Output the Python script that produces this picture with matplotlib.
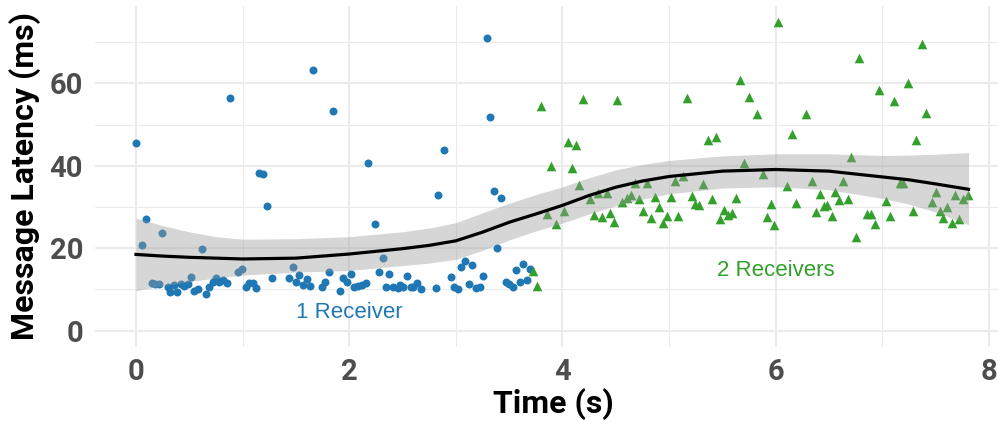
import matplotlib.pyplot as plt

# 1 Receiver (blue circles)
one_x = [0.0, 0.097, 0.056, 0.244, 0.147, 0.178, 0.219, 0.297, 0.319, 0.356, 0.388, 0.422, 0.453, 0.485,
         0.513, 0.547, 0.585, 0.616, 0.653, 0.685, 0.719, 0.750, 0.782, 0.819, 0.851, 0.882, 0.960, 0.991,
         1.029, 1.060, 1.094, 1.123, 1.154, 1.191, 1.226, 1.279, 1.435, 1.470, 1.501, 1.532, 1.563, 1.601,
         1.632, 1.663, 1.745, 1.776, 1.807, 1.845, 1.914, 1.945, 1.976, 2.014, 2.048, 2.080, 2.117, 2.155,
         2.180, 2.242, 2.283, 2.314, 2.345, 2.377, 2.414, 2.455, 2.477, 2.508, 2.545, 2.577, 2.602, 2.640,
         2.671, 2.811, 2.836, 2.892, 2.955, 2.983, 3.024, 3.052, 3.087, 3.121, 3.155, 3.189, 3.224, 3.258,
         3.290, 3.321, 3.356, 3.390, 3.421, 3.468, 3.502, 3.537, 3.568, 3.602, 3.633, 3.668, 3.699]
one_y = [45.5, 27.1, 20.7, 23.8, 11.6, 11.4, 11.3, 10.5, 9.3, 11.0, 9.3, 11.4, 10.8, 11.4,
         13.1, 9.7, 10.0, 19.8, 8.8, 10.7, 11.9, 12.9, 11.9, 12.3, 11.5, 56.5, 14.2, 14.9,
         10.7, 11.6, 11.6, 10.4, 38.2, 37.9, 30.3, 12.9, 12.9, 15.4, 11.9, 13.5, 11.1, 12.5,
         10.8, 63.2, 10.5, 11.9, 14.2, 53.3, 9.6, 12.9, 11.7, 13.7, 10.5, 10.9, 11.2, 11.6,
         40.7, 26.0, 14.2, 17.6, 10.5, 13.7, 10.7, 10.4, 11.1, 10.5, 13.3, 10.5, 10.7, 11.6,
         10.1, 10.4, 32.9, 43.8, 13.1, 10.5, 10.1, 15.4, 17.0, 11.3, 15.9, 10.4, 10.7, 13.3,
         71.1, 51.8, 33.9, 20.1, 32.2, 11.7, 11.3, 10.7, 14.7, 11.7, 16.3, 12.3, 15.0]

# 2 Receivers (green triangles)
two_x = [3.727, 3.758, 3.796, 3.856, 3.893, 3.940, 4.015, 4.049, 4.087, 4.124, 4.159, 4.196, 4.259, 4.293,
         4.334, 4.368, 4.415, 4.447, 4.484, 4.516, 4.556, 4.603, 4.640, 4.681, 4.719, 4.760, 4.791, 4.828,
         4.869, 4.903, 4.941, 4.978, 5.019, 5.056, 5.081, 5.128, 5.166, 5.213, 5.244, 5.285, 5.322, 5.369,
         5.441, 5.401, 5.478, 5.519, 5.557, 5.594, 5.629, 5.666, 5.707, 5.754, 5.823, 5.879, 5.917, 5.957,
         5.988, 6.025, 6.109, 6.151, 6.188, 6.285, 6.337, 6.375, 6.415, 6.452, 6.484, 6.525, 6.556, 6.594,
         6.628, 6.675, 6.709, 6.750, 6.784, 6.854, 6.892, 6.935, 6.970, 7.036, 7.071, 7.108, 7.167, 7.198,
         7.242, 7.286, 7.320, 7.371, 7.409, 7.465, 7.502, 7.542, 7.573, 7.610, 7.652, 7.683, 7.723, 7.760,
         7.807]
two_y = [14.5, 10.9, 54.5, 28.3, 40.0, 25.8, 29.0, 45.7, 39.4, 45.0, 35.3, 56.2, 31.9, 28.1,
         33.5, 27.5, 33.5, 28.5, 26.3, 56.0, 31.3, 32.1, 32.9, 35.9, 31.9, 29.1, 35.8, 27.3,
         32.5, 30.1, 26.2, 27.8, 32.5, 36.3, 27.8, 37.4, 56.5, 32.7, 30.7, 30.5, 35.6, 46.3,
         47.1, 31.9, 27.0, 29.3, 28.1, 28.5, 32.3, 60.8, 40.6, 56.8, 52.5, 38.0, 27.6, 30.7,
         25.6, 74.8, 35.2, 47.7, 31.0, 52.5, 36.3, 28.7, 33.1, 30.2, 30.5, 27.9, 33.6, 31.7,
         36.4, 31.9, 42.1, 22.8, 66.2, 28.3, 28.3, 26.0, 58.4, 31.5, 27.9, 55.8, 35.9, 35.9,
         60.0, 29.1, 46.3, 69.5, 52.7, 31.1, 33.7, 29.1, 27.3, 30.1, 26.2, 32.9, 27.0, 31.9,
         32.9]

# smoother: fit and confidence band
smooth_x = [0.0, 0.25, 0.5, 0.75, 1.0, 1.5, 2.0, 2.5, 2.75, 3.0, 3.25, 3.5, 3.75, 4.0, 4.25,
            4.5, 4.75, 5.0, 5.5, 6.0, 6.5, 7.0, 7.25, 7.5, 7.81]
smooth_fit = [18.5, 18.1, 17.8, 17.6, 17.4, 17.6, 18.6, 19.9, 20.7, 21.8, 23.9, 26.3, 28.3, 30.4, 32.8,
              34.8, 36.3, 37.4, 38.7, 39.1, 38.7, 37.3, 36.6, 35.6, 34.3]
smooth_lo = [9.7, 10.9, 11.9, 12.8, 13.5, 14.2, 14.6, 15.8, 16.4, 17.3, 19.5, 22.0, 24.2, 26.1, 28.3,
             30.3, 31.9, 33.2, 34.6, 34.9, 34.2, 32.1, 30.7, 28.8, 25.7]
smooth_hi = [27.3, 25.5, 24.0, 22.8, 22.2, 22.3, 22.8, 24.0, 24.9, 26.2, 28.6, 30.9, 33.0, 34.9, 37.1,
             39.0, 40.3, 41.3, 42.4, 42.9, 42.9, 42.5, 42.6, 42.8, 43.2]

x_ticks = [0, 2, 4, 6, 8]
y_ticks = [0, 20, 40, 60]

blue = '#1f78b4'
green = '#33a02c'

fig = plt.figure(figsize=(9.98, 4.21), dpi=100)
ax = fig.add_axes([95/998, 1-347/421, 1-95/998, 341/421])

ax.scatter(one_x, one_y, s=33, c=blue, marker='o', linewidths=0, zorder=2)
ax.scatter(two_x, two_y, s=48, c=green, marker='^', linewidths=0, zorder=2)
ax.fill_between(smooth_x, smooth_lo, smooth_hi, color='#999999', alpha=0.4, lw=0, zorder=3)
ax.plot(smooth_x, smooth_fit, color='black', lw=2.3, zorder=4)

ax.text(2.0, 4.5, '1 Receiver', color=blue, fontsize=16, family='Liberation Sans', ha='center', va='center')
ax.text(6.0, 14.7, '2 Receivers', color=green, fontsize=16, family='Liberation Sans', ha='center', va='center')

ax.set_xlim(-0.385, 8.086)
ax.set_ylim(-3.95, 78.75)
ax.set_xticks(x_ticks)
ax.set_yticks(y_ticks)
ax.set_xticks([1, 3, 5, 7], minor=True)
ax.set_yticks([10, 30, 50, 70], minor=True)
ax.grid(which='major', color='#ebebeb', lw=1.5, zorder=0)
ax.grid(which='minor', color='#ebebeb', lw=0.8, zorder=0)
ax.set_axisbelow(True)
for s in ax.spines.values():
    s.set_visible(False)
ax.tick_params(which='both', length=0)
ax.tick_params(axis='y', pad=8.6)
ax.tick_params(axis='x', pad=8)
for lab in ax.get_xticklabels() + ax.get_yticklabels():
    lab.set_family('Roboto')
    lab.set_fontweight('bold')
    lab.set_fontsize(21)
    lab.set_color('#4d4d4d')

ax.set_xlabel('Time (s)', family='Roboto', fontweight='bold', fontsize=23)
ax.xaxis.set_label_coords(0.508, -0.121)
ax.set_ylabel('Message Latency (ms)', family='Roboto', fontweight='bold', fontsize=23, labelpad=6)

plt.savefig('out.png', dpi=100)
